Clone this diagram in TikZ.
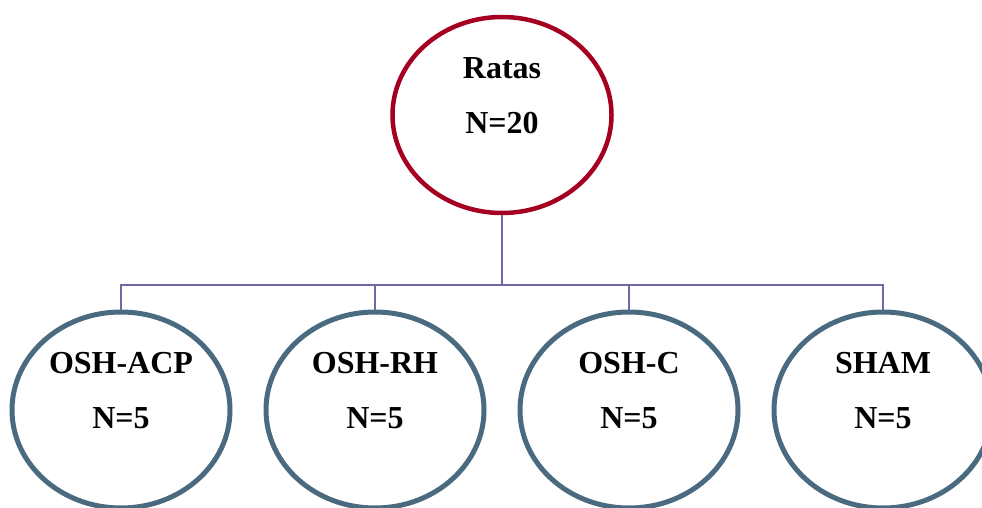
\documentclass[tikz,border=0pt]{standalone}
\usepackage{fontspec}
\setmainfont{Liberation Serif}
\usetikzlibrary{positioning, shapes.geometric}
\definecolor{ratared}{RGB}{165,0,33}
\definecolor{grpblue}{RGB}{74,106,128}
\definecolor{linkpurple}{RGB}{110,104,165}

\begin{document}
\begin{tikzpicture}[x=1pt, y=1pt,
                top/.style={ellipse, draw=ratared, line width=4.5pt,
                  minimum width=219pt, minimum height=196pt, inner sep=0pt},
                grp/.style={ellipse, draw=grpblue, line width=5pt,
                  minimum width=218pt, minimum height=196pt, inner sep=0pt},
                txt/.style={label={[yshift=19pt, align=center,
                  font=\fontsize{32}{55}\selectfont\bfseries]center:#1}},
                link/.style={draw=linkpurple, line width=1.8pt}
              ]
              \useasboundingbox (0,0) rectangle (982,507);
              % top node
              \node [top, txt={Ratas\\N=20}] (ratas) at (502,392) {};
              % groups
              \node [grp, txt={OSH-ACP\\N=5}] (acp) at (121,97) {};
              \node [grp, right=31pt of acp, txt={OSH-RH\\N=5}] (rh) {};
              \node [grp, right=31pt of rh, txt={OSH-C\\N=5}] (c) {};
              \node [grp, right=31pt of c, txt={SHAM\\N=5}] (sham) {};
              % connectors
              \coordinate (hub) at (502,222);
              \draw [link] (ratas.south) -- (hub);
              \foreach \g in {acp, rh, c, sham}
                \draw [link] (hub) -| (\g.north);
\end{tikzpicture}
\end{document}
